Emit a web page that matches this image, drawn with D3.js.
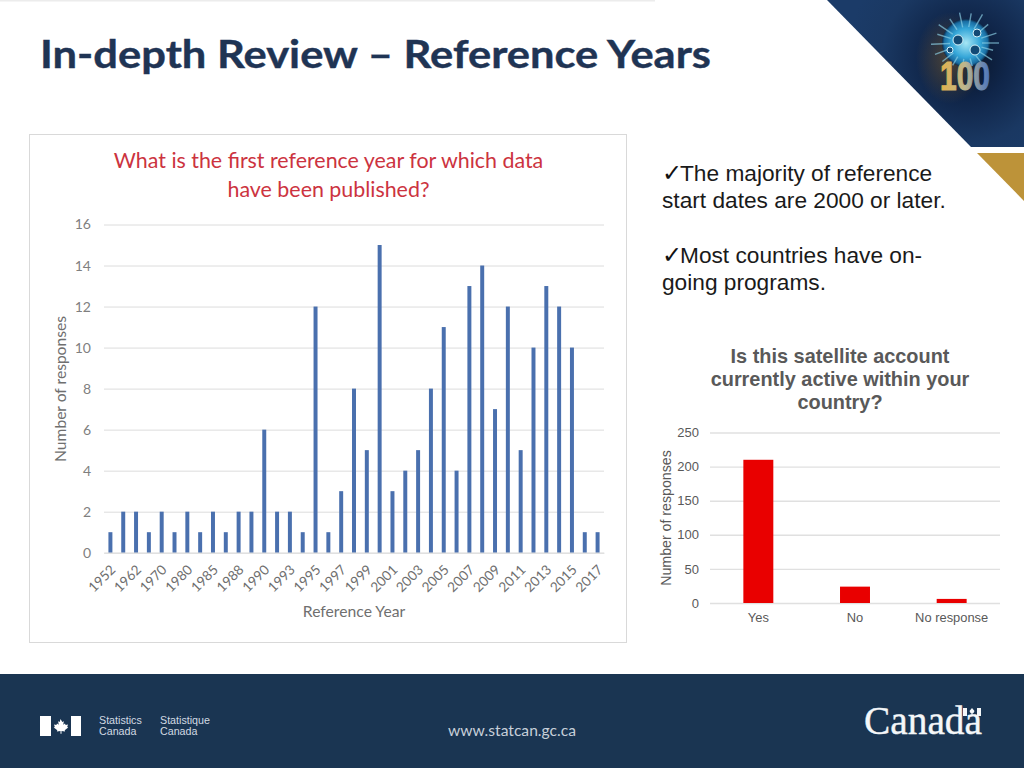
<!DOCTYPE html>
<html><head><meta charset="utf-8">
<script src="https://cdn.jsdelivr.net/npm/d3@7/dist/d3.min.js"></script>
<style>html,body{margin:0;padding:0;background:#fff;overflow:hidden}svg{display:block}</style>
</head><body><svg id="c" width="1024" height="768" viewBox="0 0 1024 768"></svg>
<script>
// ---- Data ----
const slideTitle = "In-depth Review – Reference Years";
const yearCategories = ["1952","1960","1962","1965","1970","1975","1980","1983","1985","1987","1988","1989","1990","1992","1993","1994","1995","1996","1997","1998","1999","2000","2001","2002","2003","2004","2005","2006","2007","2008","2009","2010","2011","2012","2013","2014","2015","2016","2017"];
const yearValues = [1,2,2,1,2,1,2,1,2,1,2,2,6,2,2,1,12,1,3,8,5,15,3,4,5,8,11,4,13,14,7,12,5,10,13,12,10,1,1];
const yearTicks = [0,2,4,6,8,10,12,14,16];
const leftTitle = ["What is the first reference year for which data","have been published?"];
const activeCategories = ["Yes","No","No response"];
const activeValues = [210,24,6];
const activeTicks = [0,50,100,150,200,250];
const rightTitle = ["Is this satellite account","currently active within your","country?"];
const notes = [["The majority of reference","start dates are 2000 or later."],["Most countries have on-","going programs."]];

const svg = d3.select("#c");
const defs = svg.append("defs");
const SANS = "'Liberation Sans',Arial,sans-serif", LATO = "Lato,'Open Sans',sans-serif";

// ---- Slide chrome ----
svg.append("rect").attr("x",0).attr("y",0).attr("width",655).attr("height",1.5).attr("fill","#ececec");
svg.append("text").attr("x",40).attr("y",68).attr("font-family",LATO).attr("font-weight",700)
  .attr("font-size",39).attr("fill","#1f3454").attr("stroke","#1f3454").attr("stroke-width",.4)
  .attr("textLength",671).attr("lengthAdjust","spacingAndGlyphs").text(slideTitle);

// corner artwork
const cg = defs.append("radialGradient").attr("id","cornerBg").attr("gradientUnits","userSpaceOnUse")
  .attr("cx",966).attr("cy",60).attr("r",120);
cg.append("stop").attr("offset",0).attr("stop-color","#081428");
cg.append("stop").attr("offset",.35).attr("stop-color","#10264a");
cg.append("stop").attr("offset",.7).attr("stop-color","#1a3862");
cg.append("stop").attr("offset",1).attr("stop-color","#1b3b68");
svg.append("path").attr("d","M827,0L1024,0L1024,147L971,147Z").attr("fill","url(#cornerBg)");
const hz = defs.append("radialGradient").attr("id","halo");
hz.append("stop").attr("offset",0).attr("stop-color","#6a563a").attr("stop-opacity",.7);
hz.append("stop").attr("offset",1).attr("stop-color","#6a563a").attr("stop-opacity",0);
svg.append("ellipse").attr("cx",950).attr("cy",58).attr("rx",34).attr("ry",46).attr("fill","url(#halo)");
const gg = defs.append("radialGradient").attr("id","globe");
gg.append("stop").attr("offset",0).attr("stop-color","#a6e6f5");
gg.append("stop").attr("offset",.6).attr("stop-color","#35a6d8");
gg.append("stop").attr("offset",.9).attr("stop-color","#1a6ea3");
gg.append("stop").attr("offset",1).attr("stop-color","#0c2c4d");
svg.append("circle").attr("cx",966).attr("cy",43).attr("r",24).attr("fill","url(#globe)");
const spokeAngles = [0,15,33,52,75,98,121,142,160,178,197,214,236,258,280,300,320,342];
const spokeLengths = [33,28,31,26,24,24,26,30,33,35,30,33,29,31,30,33,29,32];
svg.append("g").selectAll("line").data(spokeAngles).join("line")
  .attr("x1",d=>966+16*Math.cos(d*Math.PI/180)).attr("y1",d=>43+16*Math.sin(d*Math.PI/180))
  .attr("x2",(d,i)=>966+spokeLengths[i]*Math.cos(d*Math.PI/180)).attr("y2",(d,i)=>43+spokeLengths[i]*Math.sin(d*Math.PI/180))
  .attr("stroke","#8fd4ea").attr("stroke-width",1.4).attr("opacity",.65);
svg.append("g").selectAll("circle").data([[958,40,5],[977,33,4],[975,50,5],[950,50,3]]).join("circle")
  .attr("cx",d=>d[0]).attr("cy",d=>d[1]).attr("r",d=>d[2]).attr("fill","#134a75").attr("stroke","#d3f1fa").attr("stroke-width",1);
const hg = defs.append("linearGradient").attr("id","hundred");
hg.append("stop").attr("offset",0).attr("stop-color","#e3b24a");
hg.append("stop").attr("offset",.5).attr("stop-color","#bdb68e");
hg.append("stop").attr("offset",1).attr("stop-color","#4a74bf");
svg.append("text").attr("x",940).attr("y",89.5).attr("font-family","'Liberation Sans Narrow','Liberation Sans',sans-serif")
  .attr("font-weight",700).attr("font-size",41).attr("fill","url(#hundred)").attr("stroke","url(#hundred)").attr("stroke-width",1.2)
  .attr("textLength",50).attr("lengthAdjust","spacingAndGlyphs").text("100");
svg.append("path").attr("d","M977,153L1024,153L1024,201Z").attr("fill","#bd9339");

// footer
svg.append("rect").attr("x",0).attr("y",674).attr("width",1024).attr("height",94).attr("fill","#1a3552");
svg.append("rect").attr("x",40).attr("y",716).attr("width",11).attr("height",20).attr("fill","#fff");
svg.append("rect").attr("x",71).attr("y",716).attr("width",10).attr("height",20).attr("fill","#fff");
svg.append("path").attr("fill","#fff").attr("d","M60.5,719l1.8,3 1.6-.8-.7,3.6 1.8-1.3.6,1.4 2.4-.4-.8,2.4 1,.6-3.5,2.7.4,1.3-3.6-.4v2.6h-1v-2.6l-3.6.4.4-1.3-3.5-2.7 1-.6-.8-2.4 2.4.4.6-1.4 1.8,1.3-.7-3.6 1.6.8z");
const foot = [["Statistics",99,724],["Canada",99,735],["Statistique",160,724],["Canada",160,735]];
svg.append("g").selectAll("text").data(foot).join("text").attr("x",d=>d[1]).attr("y",d=>d[2])
  .attr("font-family",SANS).attr("font-size",10.7).attr("fill","#d2dae3").text(d=>d[0]);
svg.append("text").attr("x",448).attr("y",736).attr("font-family",LATO).attr("font-weight",400).attr("font-size",15)
  .attr("fill","#c6cfd9").attr("textLength",128).attr("lengthAdjust","spacingAndGlyphs").text("www.statcan.gc.ca");
svg.append("text").attr("x",864).attr("y",734).attr("font-family","'Liberation Serif',serif").attr("font-size",39)
  .attr("fill","#f4f7f9").attr("stroke","#f4f7f9").attr("stroke-width",.4).attr("textLength",118).attr("lengthAdjust","spacingAndGlyphs").text("Canada");
svg.append("rect").attr("x",963).attr("y",708).attr("width",4).attr("height",8).attr("fill","#f4f7f9");
svg.append("rect").attr("x",977).attr("y",708).attr("width",4).attr("height",8).attr("fill","#f4f7f9");
svg.append("path").attr("d","M972,708l2.5,3-1,2-1,.5v2h-1v-2l-1-.5-1-2z").attr("fill","#f4f7f9");

// ---- Left chart ----
svg.append("rect").attr("x",29.5).attr("y",134.5).attr("width",597).attr("height",508).attr("fill","#fff").attr("stroke","#d9d9d9");
svg.append("g").selectAll("text").data(leftTitle).join("text").attr("x",328.5).attr("y",(d,i)=>168+i*29)
  .attr("text-anchor","middle").attr("font-family",LATO).attr("font-size",21.4).attr("fill","#cc3340").text(d=>d);

const x1 = d3.scaleBand().domain(yearCategories).range([104,604]).paddingInner(.69).paddingOuter(.345);
const y1 = d3.scaleLinear().domain([0,16]).range([552.7,224.5]);
const gy1 = svg.append("g").attr("transform","translate(104,0)").call(d3.axisLeft(y1).tickValues(yearTicks).tickSize(-500).tickPadding(13));
gy1.select(".domain").remove();
gy1.selectAll("line").attr("stroke","#dcdcdc");
gy1.selectAll("text").attr("font-family",LATO).attr("font-size",14).attr("fill","#7f7f7f");
svg.append("g").selectAll("rect").data(yearValues).join("rect")
  .attr("x",(d,i)=>x1(yearCategories[i])).attr("width",x1.bandwidth())
  .attr("y",d=>y1(d)).attr("height",d=>y1(0)-y1(d)).attr("fill","#4a70ae");
const gx1 = svg.append("g").attr("transform","translate(0,552.7)")
  .call(d3.axisBottom(x1).tickValues(yearCategories.filter((d,i)=>i%2===0)).tickSize(0).tickPadding(0));
gx1.select(".domain").attr("stroke","#dcdcdc");
gx1.selectAll("text").attr("font-family",LATO).attr("font-size",13.6).attr("fill","#6f6f6f")
  .attr("text-anchor","end").attr("dy",0).attr("transform",d=>"translate(6,18) rotate(-45)");
svg.append("text").attr("text-anchor","middle").attr("transform","translate(66,389) rotate(-90)")
  .attr("font-family",LATO).attr("font-size",15.6).attr("fill","#6f6f6f").text("Number of responses");
svg.append("text").attr("x",354).attr("y",617).attr("text-anchor","middle").attr("font-family",LATO).attr("font-size",15.7).attr("fill","#6f6f6f").text("Reference Year");

// ---- Notes ----
const noteY = [[181,208],[263,290]];
notes.forEach((n,k)=>{
  svg.append("text").attr("x",662).attr("y",noteY[k][0]).attr("font-family","'DejaVu Sans',sans-serif").attr("font-size",24).attr("fill","#111").text("✓");
  n.forEach((t,j)=>svg.append("text").attr("x",j?662:680).attr("y",noteY[k][j]).attr("font-family",SANS).attr("font-size",22.7).attr("fill","#1a1a1a").text(t));
});

// ---- Right chart ----
svg.append("g").selectAll("text").data(rightTitle).join("text").attr("x",840).attr("y",(d,i)=>363+i*23)
  .attr("text-anchor","middle").attr("font-family",SANS).attr("font-weight",700).attr("font-size",19.9).attr("fill","#595959").text(d=>d);
const x2 = d3.scaleBand().domain(activeCategories).range([710,1000]).paddingInner(.69).paddingOuter(.345);
const y2 = d3.scaleLinear().domain([0,250]).range([603,432.5]);
const gy2 = svg.append("g").attr("transform","translate(710,0)").call(d3.axisLeft(y2).tickValues(activeTicks).tickSize(-290).tickPadding(11));
gy2.select(".domain").remove();
gy2.selectAll("line").attr("stroke","#e0e0e0").attr("stroke-width",1.4);
gy2.selectAll("text").attr("font-family",SANS).attr("font-size",13).attr("fill","#595959");
svg.append("g").selectAll("rect").data(activeValues).join("rect")
  .attr("x",(d,i)=>x2(activeCategories[i])).attr("width",x2.bandwidth())
  .attr("y",d=>y2(d)).attr("height",d=>y2(0)-y2(d)).attr("fill","#e90000");
const gx2 = svg.append("g").attr("transform","translate(0,603)").call(d3.axisBottom(x2).tickSize(0).tickPadding(10));
gx2.select(".domain").remove();
gx2.selectAll("text").attr("font-family",SANS).attr("font-size",12.9).attr("fill","#595959");
svg.append("text").attr("text-anchor","middle").attr("transform","translate(671,518) rotate(-90)")
  .attr("font-family",SANS).attr("font-size",14.2).attr("fill","#595959").text("Number of responses");
</script></body></html>
